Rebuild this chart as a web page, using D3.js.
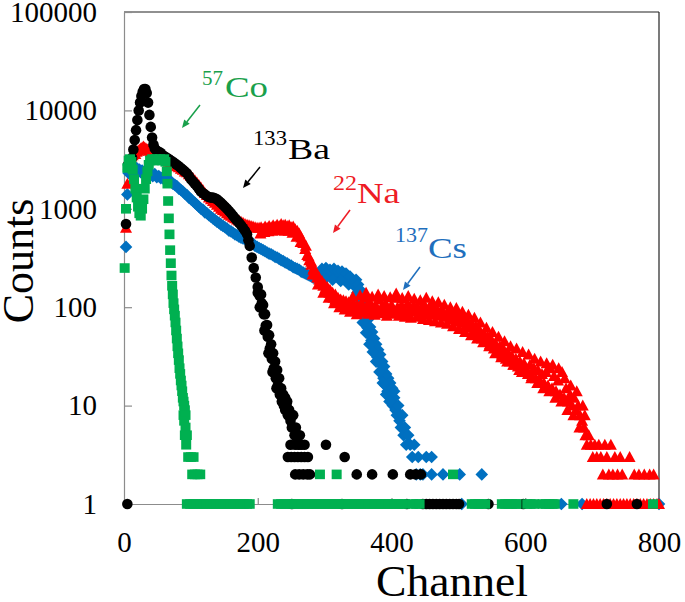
<!DOCTYPE html>
<html><head><meta charset="utf-8">
<script src="https://cdn.jsdelivr.net/npm/d3@7"></script>
<style>body{margin:0;background:#fff}svg{display:block}text{font-family:"Liberation Serif","Times New Roman",serif}</style>
</head><body><svg id="c" width="685" height="602"></svg>
<script>
// ---- data: [channel, counts] ----
const cs137 = [[3,410],[5,1400],[7,2300],[9,2500],[11,2600],[13,2400],[15,2550],[17,2450],[19,2600],[21,2400],[23,2500],[25,2350],[27,2450],[29,2300],[31,2400],[33,2250],[35,2350],[37,2200],[40,2300],[43,2150],[46,2250],[49,2100],[52,2150],[55,2050],[58,2100],[61,1950],[64,2000],[67,1900],[70,1900],[73,1800],[76,1750],[79,1700],[82,1600],[85,1550],[88,1500],[91,1420],[94,1380],[97,1300],[100,1250],[103,1200],[106,1150],[109,1100],[112,1050],[115,1000],[118,980],[121,920],[124,900],[127,860],[130,830],[133,800],[136,770],[139,740],[142,720],[145,690],[148,670],[151,650],[154,630],[157,600],[160,590],[163,570],[166,550],[169,540],[172,520],[175,510],[178,500],[181,490],[184,470],[187,460],[190,450],[193,440],[196,420],[199,410],[202,400],[205,390],[208,380],[211,370],[214,360],[217,350],[220,345],[223,335],[226,325],[229,320],[232,310],[235,300],[238,295],[241,285],[244,280],[247,270],[250,265],[253,255],[256,250],[259,245],[262,240],[265,230],[268,225],[271,220],[274,215],[277,210],[280,205],[283,200],[286,205],[289,210],[292,220],[295,215],[298,225],[301,230],[304,220],[307,225],[310,215],[313,220],[316,210],[319,215],[322,205],[325,210],[328,200],[331,205],[334,195],[337,190],[340,185],[343,175],[346,160],[349,140],[352,120],[355,100],[358,85],[361,72],[364,62],[367,52],[370,46],[373,40],[376,35],[379,31],[382,27],[385,22],[388,19],[391,16],[394,14],[396,15],[398,12],[400,11],[402,10],[404,12],[406,9],[408,8],[410,10],[412,7],[414,6],[416,8],[418,5],[420,6],[422,4],[425,5],[428,4],[431,3],[434,4],[437,2],[440,3],[443,2],[447,2],[452,3],[460,3],[460,2],[477,2],[502,2],[505,1],[535,2],[654,1],[685,1],[800,1],
  [296,245],[302,250],[308,240],[314,245],[320,235],[326,230],[332,220],[338,205],[300,195],[312,190],[324,185],[336,170],
  [347,190],[350,170],[353,150],[356,120],[359,105],[362,88],[365,75],[368,63],[371,56],[374,48],[377,42],[380,37],[383,33],[386,28],[389,25],[392,21],[395,19],[398,17],[401,15],[404,14],
  [352,100],[357,70],[362,55],[367,42],[372,35],[377,28],[382,22],[387,17],[392,13],[397,11]];

const na22 = [[3,640],[5,1800],[7,2800],[9,3200],[11,3400],[13,3500],[15,3700],[17,3600],[19,3800],[21,3900],[23,4000],[25,4100],[27,4200],[29,4300],[31,4200],[33,4100],[35,4000],[37,3900],[40,3800],[43,3700],[46,3600],[49,3500],[52,3400],[55,3300],[58,3250],[61,3150],[64,3100],[67,3000],[70,2950],[73,2850],[76,2800],[79,2700],[82,2650],[85,2550],[88,2500],[91,2400],[94,2350],[97,2250],[100,2150],[103,2050],[106,1950],[109,1850],[112,1750],[115,1650],[118,1550],[121,1450],[124,1380],[127,1300],[130,1250],[133,1200],[136,1150],[139,1100],[142,1050],[145,1000],[148,970],[151,940],[154,900],[157,870],[160,850],[163,820],[166,800],[169,780],[172,760],[175,740],[178,720],[181,700],[184,690],[187,680],[190,670],[193,660],[196,650],[199,640],[202,640],[205,650],[208,630],[211,660],[214,640],[217,670],[220,650],[223,680],[226,660],[229,690],[232,670],[235,700],[238,680],[241,690],[244,670],[247,680],[250,650],[253,660],[256,620],[259,600],[262,560],[265,510],[268,450],[271,390],[274,340],[277,300],[280,270],[283,240],[286,220],[289,200],[292,190],[295,175],[298,165],[301,155],[304,145],[307,140],[310,130],[313,125],[316,120],[319,115],[322,118],[325,110],[328,105],[331,112],[334,100],[337,108],[340,98],[343,110],[346,96],[349,104],[352,95],[355,110],[358,100],[361,125],[364,95],[367,115],[370,100],[373,90],[376,105],[379,95],[382,120],[385,100],[388,92],[391,110],[394,98],[397,88],[400,105],[403,95],[406,125],[409,100],[412,90],[415,105],[418,95],[421,88],[424,110],[427,98],[430,92],[433,104],[436,90],[439,100],[442,86],[445,96],[448,110],[451,92],[454,85],[457,98],[460,88],[463,100],[466,84],[469,92],[472,82],[475,95],[478,86],[481,80],[484,90],[487,78],[490,85],[493,75],[496,88],[499,72],[502,80],[505,70],[508,76],[511,66],[514,72],[517,62],[520,68],[523,58],[526,64],[529,54],[532,58],[535,48],[538,54],[541,45],[544,50],[547,42],[550,46],[553,38],[556,42],[559,36],[562,40],[565,33],[568,37],[571,30],[574,35],[577,28],[580,32],[583,26],[586,30],[589,25],[592,28],[595,22],[598,27],[601,24],[604,21],[607,26],[610,20],[613,24],[616,19],[619,23],[622,18],[625,21],[628,17],[631,22],[634,16],[637,24],[640,15],[643,20],[646,14],[649,18],[652,13],[655,22],[658,12],[661,15],[664,11],[667,13],[670,10],[673,12],[676,9],[679,10],[682,8],[685,7],[688,6],[690,5],[692,4],[695,5],[698,4],[701,3],[704,4],[707,3],[710,4],[713,3],[716,2],[719,4],[722,3],[725,2],[728,4],[731,2],[734,3],[738,2],[742,3],[745,2],[756,3],[763,2],[770,2],[778,2],[786,2],[792,2],[692,1],[697,1],[702,1],[707,1],[712,1],[717,1],[722,1],[727,1],[732,1],[737,1],[742,1],[747,1],[752,1],[757,1],[762,1],[767,1],[772,1],[777,1],[782,1],[787,1],[792,1],[797,1],[800,1],
  [204,560],[210,580],[216,590],[222,600],[228,610],[234,620],[240,600],[246,600],[252,570],[258,520],[264,460],
  [272,420],[276,330],[280,290],[284,250],[288,215],[292,200],[296,185],[300,170],[304,160],[308,150],[312,140],[316,135],[320,125],[324,120],[328,118],[332,115],[336,112],
  [282,215],[290,170],[298,140],[306,125],[314,110],[322,100],[330,95],[338,90],
  [342,128],[348,85],[353,132],[357,88],[362,140],[366,86],[371,128],[375,84],[380,135],[384,87],[389,130],[393,82],[398,126],[402,86],[407,138],[411,82],[416,124],[420,80],[425,130],[429,78],[434,122],[438,80],[443,118],[447,76],[452,125],[456,74],[461,115],[465,72],[470,112],[474,70],[479,106],[483,68],[488,100],[492,64],[497,98],[501,60],[506,90],[510,56],[515,84],[519,52],[524,78],[528,48],[533,70],[537,44],[542,62],[546,40],[551,56],[555,34],[560,50],[564,31],[569,45],[573,28],[578,40],[582,26],[587,38],[591,23],[596,35],[600,22],[605,33],[609,19],[614,30],[618,17],[623,28],[627,15],[632,27],[636,14],[641,26],[645,12],[650,24],[654,11],[659,19],[663,9],[668,16],[672,8],[677,14],[681,6],[686,10],[689,8]];

const ba133 = [[3,700],[5,1],[6,2800],[8,3000],[10,3100],[12,3300],[14,4000],[16,5000],[18,6300],[20,8000],[22,10000],[24,12000],[26,14000],[28,15500],[30,16500],[32,16500],[34,15000],[36,12000],[38,9000],[40,6800],[42,5300],[44,4500],[46,4100],[49,3900],[52,3800],[55,3700],[58,3500],[61,3400],[64,3300],[67,3200],[70,3100],[73,3000],[76,2900],[79,2800],[82,2700],[85,2600],[88,2500],[91,2400],[94,2300],[97,2150],[100,2000],[103,1900],[106,1800],[109,1700],[112,1600],[115,1500],[118,1450],[121,1400],[124,1350],[127,1320],[130,1300],[133,1300],[136,1280],[139,1250],[142,1200],[145,1150],[148,1100],[151,1050],[154,1000],[157,950],[160,900],[163,850],[166,800],[169,760],[172,720],[175,680],[178,640],[181,600],[184,550],[186,480],[188,420],[191,320],[194,250],[197,200],[200,160],[203,130],[206,110],[209,85],[212,65],[215,50],[218,38],[221,30],[224,24],[227,19],[230,16],[233,13],[236,11],[239,10],[241,9],[243,10],[245,8],[247,9],[249,7],[251,6],[253,8],[255,5],[257,6],[259,5],[261,4],[263,5],[265,4],[249,4],[256,4],[270,4],[245,3],[250,3],[255,3],[260,3],[265,3],[270,3],[275,3],[256,2],[262,2],[268,2],[274,2],[278,2],[302,4],[330,3],[348,2],[371,2],[402,2],[428,2],[436,2],[444,2],[251,1],[326,1],[423,1],[447,1],[452,1],[457,1],[462,1],[467,1],[472,1],[477,1],[482,1],[487,1],[492,1],[497,1],[501,1],[545,1],[597,1],[722,1],[767,1],
  [205,135],[208,105],[211,85],[214,66],[217,52],[220,42],[223,34],[226,28],[229,23],[232,19],[235,15],[238,13],[241,12],[244,11],
  [200,140],[203,100],[210,58],[216,34],[222,22],[228,15]];

const co57 = [[1,250],[3,1000],[5,2600],[7,3100],[9,3200],[11,3000],[13,2500],[15,2000],[17,1600],[19,1300],[21,1050],[23,900],[25,850],[27,1000],[29,1250],[31,1600],[33,2000],[35,2400],[37,2800],[39,3100],[42,3200],[45,3100],[48,3200],[51,3100],[54,3200],[57,3100],[60,3200],[62,3000],[64,2400],[65,1800],[66,1200],[67,800],[68,550],[69,380],[70,280],[71,210],[72,165],[73,135],[74,110],[75,95],[76,82],[77,70],[78,58],[79,48],[80,40],[81,34],[82,29],[83,24],[84,21],[85,18],[86,16],[87,14],[88,12],[89,11],[90,10],[91,9],[89,8],[92,8],[90,7],[92,6],[91,5],[93,4],[94,5],[96,3],[100,3],[104,3],[102,2],[106,2],[110,2],[114,2],[293,2],[318,2],[492,2],[94,1],[99,1],[104,1],[109,1],[114,1],[119,1],[124,1],[129,1],[134,1],[139,1],[144,1],[149,1],[154,1],[159,1],[164,1],[169,1],[174,1],[179,1],[184,1],[188,1],[230,1],[235,1],[240,1],[245,1],[250,1],[255,1],[260,1],[265,1],[270,1],[275,1],[280,1],[285,1],[290,1],[295,1],[300,1],[305,1],[310,1],[315,1],[320,1],[325,1],[330,1],[335,1],[340,1],[345,1],[350,1],[355,1],[360,1],[365,1],[370,1],[375,1],[380,1],[385,1],[390,1],[395,1],[400,1],[405,1],[410,1],[415,1],[420,1],[432,1],[437,1],[442,1],[520,1],[525,1],[530,1],[535,1],[540,1],[565,1],[570,1],[575,1],[580,1],[585,1],[587,1],[603,1],[608,1],[613,1],[626,1],[631,1],[636,1],[641,1],[644,1],[672,1],[791,1]];

const xTickValues = [0, 200, 400, 600, 800];
const yTickValues = [1, 10, 100, 1000, 10000, 100000];
const labels = [
  {sup: "57", main: "Co", color: "#19a04b"},
  {sup: "133", main: "Ba", color: "#000000"},
  {sup: "22", main: "Na", color: "#ee1c25"},
  {sup: "137", main: "Cs", color: "#1f6fbd"}
];

// ---- layout ----
const svg = d3.select("#c");
const L = 124, R = 659, T = 12, B = 504;
const x = d3.scaleLinear().domain([0, 800]).range([L, R]);
const y = d3.scaleLog().domain([1, 100000]).range([B, T]);

svg.append("line").attr("x1", L).attr("x2", R).attr("y1", T).attr("y2", T).attr("stroke", "#222").attr("stroke-width", 1.2);
svg.append("line").attr("x1", R).attr("x2", R).attr("y1", T).attr("y2", B).attr("stroke", "#222").attr("stroke-width", 1.2);

const yAxis = d3.axisLeft(y).tickValues(yTickValues).tickFormat(d3.format("d")).tickSizeInner(-8).tickSizeOuter(0).tickPadding(27);
const gy = svg.append("g").attr("transform", `translate(${L},0)`).call(yAxis);
const xAxis = d3.axisBottom(x).tickValues(xTickValues).tickFormat(d3.format("d")).tickSizeInner(-6).tickSizeOuter(0).tickPadding(27);
const gx = svg.append("g").attr("transform", `translate(0,${B})`).call(xAxis);
[gx, gy].forEach(g => {
  g.select(".domain").attr("stroke", "#8c8c8c").attr("stroke-width", 1.2);
  g.selectAll(".tick line").attr("stroke", "#8c8c8c").attr("stroke-width", 1.2);
  g.selectAll(".tick text").attr("font-family", '"Liberation Serif", serif').attr("font-size", 29).attr("fill", "#000");
});
gx.selectAll(".tick").filter(d => d === 0).select("line").remove();

svg.append("text").attr("transform", "translate(33,261) rotate(-90)").attr("text-anchor", "middle")
  .attr("font-size", 44).attr("fill", "#000").text("Counts");
svg.append("text").attr("x", 376).attr("y", 596)
  .attr("font-size", 44).attr("fill", "#000").attr("textLength", 152).attr("lengthAdjust", "spacingAndGlyphs").text("Channel");

// ---- marker shapes ----
const shapes = {
  diamond: "M0,-6.3L6.3,0L0,6.3L-6.3,0Z",
  triangle: "M0,-6L6,5L-6,5Z",
  circle: d3.symbol().type(d3.symbolCircle).size(88)(),
  square: "M-5,-4.8H5V4.8H-5Z"
};
const series = [
  {data: cs137, shape: "diamond", color: "#0070c0"},
  {data: na22, shape: "triangle", color: "#ff0000"},
  {data: ba133, shape: "circle", color: "#000000"},
  {data: co57, shape: "square", color: "#00b050"}
];
const plot = svg.append("g");
series.forEach(s => {
  plot.append("g").selectAll("path").data(s.data).join("path")
    .attr("d", shapes[s.shape])
    .attr("transform", d => `translate(${x(d[0])},${y(d[1])})`)
    .attr("fill", s.color);
});

// ---- annotations ----
const labelPos = [
  {sx: 202, sy: 85, mx: 225, my: 97, sw: 21, mw: 43, a: [200, 105, 182, 128]},
  {sx: 253, sy: 145, mx: 288, my: 159, sw: 34, mw: 42, a: [260, 167, 243, 188]},
  {sx: 333, sy: 190, mx: 357, my: 203, sw: 24, mw: 43, a: [350, 210, 333, 233]},
  {sx: 395, sy: 242, mx: 428, my: 258, sw: 33, mw: 39, a: [420, 267, 403, 290]}
];
labels.forEach((lb, i) => {
  const p = labelPos[i];
  svg.append("text").attr("x", p.sx).attr("y", p.sy).attr("font-size", 21).attr("fill", lb.color)
    .attr("textLength", p.sw).attr("lengthAdjust", "spacingAndGlyphs").text(lb.sup);
  svg.append("text").attr("x", p.mx).attr("y", p.my).attr("font-size", 29).attr("fill", lb.color)
    .attr("textLength", p.mw).attr("lengthAdjust", "spacingAndGlyphs").text(lb.main);
  const [x1, y1, x2, y2] = p.a;
  const ang = Math.atan2(y2 - y1, x2 - x1);
  const hl = 8, hw = 3.5;
  const bx = x2 - hl * Math.cos(ang), by = y2 - hl * Math.sin(ang);
  svg.append("line").attr("x1", x1).attr("y1", y1).attr("x2", bx).attr("y2", by)
    .attr("stroke", lb.color).attr("stroke-width", 1.5);
  svg.append("path").attr("d", `M${x2},${y2}L${bx - hw * Math.sin(ang)},${by + hw * Math.cos(ang)}L${bx + hw * Math.sin(ang)},${by - hw * Math.cos(ang)}Z`)
    .attr("fill", lb.color);
});
</script></body></html>
